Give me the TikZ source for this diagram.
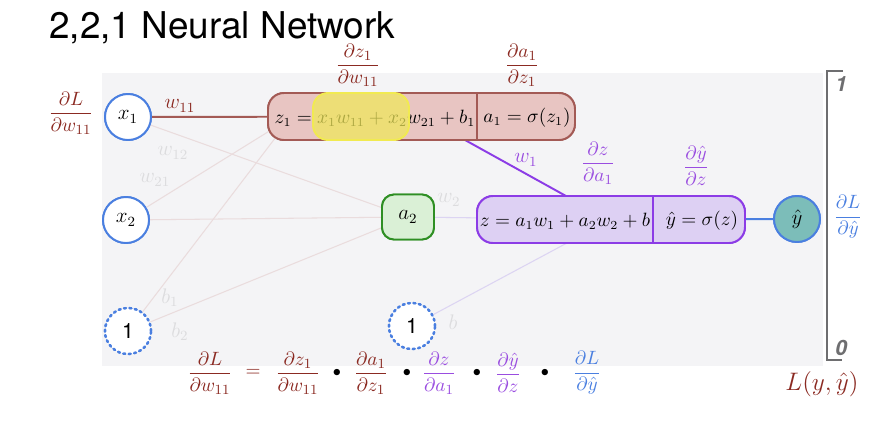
\documentclass[tikz,border=0pt]{standalone}
\usepackage{amsmath}
\usepackage{fontspec}
\newfontfamily\headfont{TeX Gyre Heros}
\usetikzlibrary{positioning}

\definecolor{panelgray}{HTML}{F4F4F6}
\definecolor{boxred}{HTML}{A35A55}
\definecolor{boxredfill}{HTML}{E8C5C2}
\definecolor{textred}{HTML}{8B2A22}
\definecolor{boxpurple}{HTML}{8C3CE6}
\definecolor{boxpurplefill}{HTML}{DDD0F3}
\definecolor{textpurple}{HTML}{9A4DE0}
\definecolor{boxgreen}{HTML}{2F8F24}
\definecolor{boxgreenfill}{HTML}{DAF0D6}
\definecolor{circblue}{HTML}{4A7FE0}
\definecolor{outteal}{HTML}{7CBDB9}
\definecolor{hlyellow}{HTML}{EFE85A}
\definecolor{faintred}{HTML}{EADCDD}
\definecolor{faintpurple}{HTML}{DCD4F2}
\definecolor{faintlabel}{HTML}{DCDCDE}
\definecolor{scalegray}{HTML}{6E6E70}

\begin{document}
\begin{tikzpicture}[x=0.02cm, y=-0.02cm,
  unit/.style={circle, draw=circblue, line width=1.1pt, fill=white,
    minimum size=0.92cm, inner sep=0pt, font=\fontsize{12}{14}\selectfont},
  biasunit/.style={unit, dotted, line width=1.4pt, line cap=round},
  redbox/.style={rectangle, rounded corners=0.32cm, draw=boxred, fill=boxredfill,
    line width=1.1pt, minimum width=6.14cm, minimum height=0.94cm},
  purplebox/.style={rectangle, rounded corners=0.32cm, draw=boxpurple,
    fill=boxpurplefill, line width=1.1pt, minimum width=5.36cm, minimum height=0.94cm},
  greenbox/.style={rectangle, rounded corners=0.24cm, draw=boxgreen,
    fill=boxgreenfill, line width=1.1pt, minimum width=1.04cm, minimum height=0.9cm,
    font=\fontsize{12}{14}\selectfont},
  hilite/.style={rectangle, rounded corners=0.3cm, draw=hlyellow!90!yellow,
    fill=hlyellow, fill opacity=0.72, line width=1.1pt,
    minimum width=1.92cm, minimum height=0.94cm},
  eq/.style={font=\fontsize{10.6}{13}\selectfont, inner sep=1pt},
  grad/.style={font=\fontsize{10.8}{13}\selectfont, inner sep=0pt},
  wlabel/.style={font=\fontsize{11.5}{14}\selectfont, inner sep=1pt},
  faint/.style={draw=faintred, line width=0.6pt},
  faintp/.style={draw=faintpurple, line width=0.6pt},
  dotop/.style={font=\fontsize{9}{10}\selectfont, inner sep=0pt},
  scalenum/.style={font=\headfont\bfseries\itshape\fontsize{12}{14}\selectfont,
    text=scalegray, inner sep=0pt},
]
\useasboundingbox (0,0) rectangle (896,420);

% Title
\node[anchor=base west, inner sep=0pt, font=\headfont\fontsize{21}{24}\selectfont]
  (title) at (49,38) {2,2,1 Neural Network};

% Background panel
\fill[panelgray] (102,73) rectangle (823,366);

% Units
\node[unit] (x1) at (128,117) {$x_1$};
\node[unit] (x2) at (126,220) {$x_2$};
\node[biasunit] (one1) at (128,331) {\headfont 1};
\node[greenbox] (a2) at (408,217) {};
\node[biasunit] (one2) at (412,326) {\headfont 1};
\node[purplebox] (zbox) at (611,219.5) {};
\node[redbox] (z1box) at (421.5,116.5) {};
\node[unit, fill=outteal] (yhat) at (797,219) {$\hat{y}$};

% Entry points on the box borders
\coordinate (z1in2) at (271,130);
\coordinate (z1inb) at (276,137);
\coordinate (w1top) at (465,140);
\coordinate (w1bot) at (566,196);
\coordinate (zinb) at (567,243);

% Faint connectors
\draw[faint] (x1) -- (a2);
\draw[faint] (x2) -- (z1in2);
\draw[faint] (x2) -- (a2);
\draw[faint] (one1) -- (z1inb);
\draw[faint] (one1) -- (a2);
\draw[faintp] (a2) -- (zbox);
\draw[faintp] (one2) -- (zinb);

% Strong connectors
\draw[boxred, line width=1.1pt] (x1) -- (z1box);
\draw[boxpurple, line width=1.1pt] (w1top) -- (w1bot);
\draw[circblue, line width=1.1pt] (zbox) -- (yhat);

% Redraw boxes and units above the connectors
\node[redbox] at (z1box) {};
\draw[boxred, line width=1.1pt] (477,93) -- (477,140);
\node[purplebox] at (zbox) {};
\draw[boxpurple, line width=1.1pt] (653,196) -- (653,243);
\node[greenbox] at (a2) {$a_2$};
\node[unit] at (x1) {$x_1$};
\node[unit] at (x2) {$x_2$};
\node[biasunit] at (one1) {\headfont 1};
\node[biasunit] at (one2) {\headfont 1};
\node[unit, fill=outteal] at (yhat) {$\hat{y}$};

% Box contents
\node[eq] (z1eq) at (375,118) {$z_1 = x_1w_{11} + x_2w_{21} + b_1$};
\node[eq] (a1eq) at (527,118) {$a_1 = \sigma(z_1)$};
\node[eq] (zeq) at (565,221) {$z = a_1w_1 + a_2w_2 + b$};
\node[eq] (yeq) at (702,221) {$\hat{y} = \sigma(z)$};
\node[hilite] (hl) at (361,116.5) {};

% Weight labels
\node[wlabel, text=textred] (lw11) at (180,106) {$w_{11}$};
\node[wlabel, text=faintlabel] (lw12) at (173,153) {$w_{12}$};
\node[wlabel, text=faintlabel] (lw21) at (155,180) {$w_{21}$};
\node[wlabel, text=faintlabel] (lb1) at (170,298) {$b_1$};
\node[wlabel, text=faintlabel] (lb2) at (180,332) {$b_2$};
\node[wlabel, text=textpurple] (lw1) at (526,160) {$w_1$};
\node[wlabel, text=faintlabel] (lw2) at (449,200) {$w_2$};
\node[wlabel, text=faintlabel] (lb) at (453,322) {$b$};

% Local gradients
\node[grad, text=textred] (gLw) at (71,113) {$\dfrac{\partial L}{\partial w_{11}}$};
\node[grad, text=textred] (gzw) at (358,65) {$\dfrac{\partial z_1}{\partial w_{11}}$};
\node[grad, text=textred] (gaz) at (522,65) {$\dfrac{\partial a_1}{\partial z_1}$};
\node[grad, text=textpurple] (gza) at (598,163) {$\dfrac{\partial z}{\partial a_1}$};
\node[grad, text=textpurple] (gyz) at (696,166) {$\dfrac{\partial \hat{y}}{\partial z}$};
\node[grad, text=circblue] (gLy) at (848,217) {$\dfrac{\partial L}{\partial \hat{y}}$};

% Loss scale
\draw[scalegray, line width=1.1pt] (843,71) -- (827,71) -- (827,360) -- (842,360);
\node[scalenum, anchor=west] (top1) at (835,84) {1};
\node[scalenum, anchor=west] (bot0) at (835,348) {0};
\node[font=\fontsize{14}{16}\selectfont, text=textred] (loss) at (822,384) {$L(y, \hat{y})$};

% Chain rule
\node[grad, text=textred] (cLw) at (210,373) {$\dfrac{\partial L}{\partial w_{11}}$};
\node[grad, text=textred] (ceq) at (253,373) {$=$};
\node[grad, text=textred] (czw) at (298,373) {$\dfrac{\partial z_1}{\partial w_{11}}$};
\node[dotop] (d1) at (337,373) {$\bullet$};
\node[grad, text=textred] (caz) at (371,373) {$\dfrac{\partial a_1}{\partial z_1}$};
\node[dotop] (d2) at (407,373) {$\bullet$};
\node[grad, text=textpurple] (cza) at (439,373) {$\dfrac{\partial z}{\partial a_1}$};
\node[dotop] (d3) at (477,373) {$\bullet$};
\node[grad, text=textpurple] (cyz) at (508,373) {$\dfrac{\partial \hat{y}}{\partial z}$};
\node[dotop] (d4) at (545,373) {$\bullet$};
\node[grad, text=circblue] (cLy) at (587,373) {$\dfrac{\partial L}{\partial \hat{y}}$};

\end{tikzpicture}
\end{document}
